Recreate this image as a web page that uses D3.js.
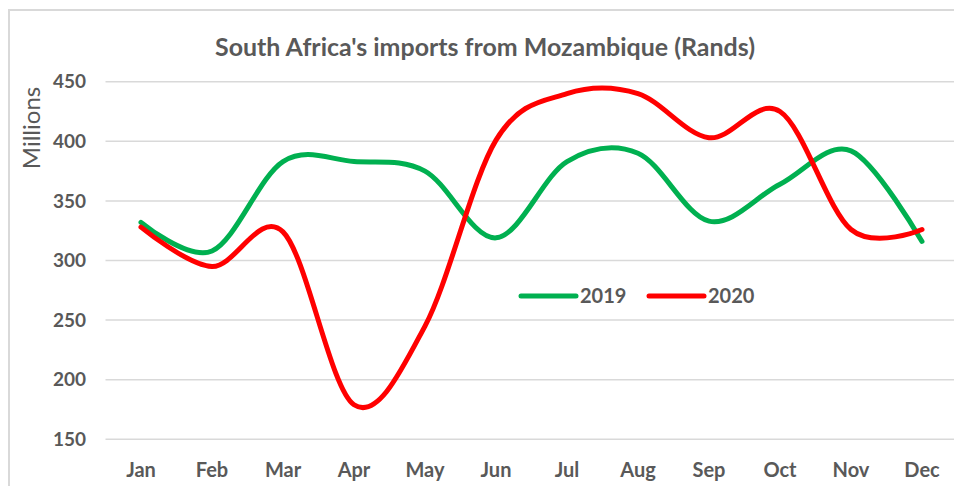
<!DOCTYPE html>
<html>
<head>
<meta charset="utf-8">
<script src="https://cdn.jsdelivr.net/npm/d3@7"></script>
<style>
  body { margin: 0; background: #fff; }
  svg { display: block; }
  text { font-family: Lato, "Noto Sans", sans-serif; fill: #595959; }
</style>
</head>
<body>
<svg id="chart"></svg>
<script>
var months = ['Jan', 'Feb', 'Mar', 'Apr', 'May', 'Jun', 'Jul', 'Aug', 'Sep', 'Oct', 'Nov', 'Dec'];
var imports2019 = [332, 308, 383, 383, 375, 319, 383, 390, 333, 364, 392, 316];
var imports2020 = [328, 295, 324, 179, 245, 401, 440, 440, 403, 425, 326, 326];
var yTicks = [150, 200, 250, 300, 350, 400, 450];
var seriesNames = ['2019', '2020'];
var seriesColors = ['#00B050', '#FF0000'];

var width = 954, height = 486;

var svg = d3.select('#chart')
    .attr('width', width)
    .attr('height', height);

// chart frame (cut off at right and bottom like the screenshot)
svg.append('rect')
    .attr('x', 9).attr('y', 10)
    .attr('width', 980).attr('height', 520)
    .attr('fill', 'none')
    .attr('stroke', '#D9D9D9')
    .attr('stroke-width', 2);

var x = d3.scalePoint()
    .domain(months)
    .range([105.5, 957.5])
    .padding(0.5);

var y = d3.scaleLinear()
    .domain([150, 450])
    .range([439.3, 81.7]);

// gridlines
svg.append('g')
    .selectAll('line')
    .data(yTicks)
    .join('line')
    .attr('x1', 105.5).attr('x2', width)
    .attr('y1', d => y(d)).attr('y2', d => y(d))
    .attr('stroke', '#D9D9D9')
    .attr('stroke-width', 1.5);

// y tick labels
svg.append('g')
    .selectAll('text')
    .data(yTicks)
    .join('text')
    .attr('x', 86)
    .attr('y', d => y(d))
    .attr('dy', '0.35em')
    .attr('text-anchor', 'end')
    .attr('font-size', 19)
    .attr('font-weight', 'bold')
    .text(d => d);

// x labels
svg.append('g')
    .selectAll('text')
    .data(months)
    .join('text')
    .attr('x', d => x(d))
    .attr('y', 477)
    .attr('text-anchor', 'middle')
    .attr('font-size', 20)
    .attr('font-weight', 'bold')
    .text(d => d);

// y axis title
svg.append('text')
    .attr('transform', 'translate(40,128) rotate(-90)')
    .attr('text-anchor', 'middle')
    .attr('font-size', 24)
    .text('Millions');

// chart title
svg.append('text')
    .attr('x', 485)
    .attr('y', 56)
    .attr('text-anchor', 'middle')
    .attr('font-size', 24)
    .attr('font-weight', 'bold')
    .attr('textLength', 540)
    .attr('lengthAdjust', 'spacingAndGlyphs')
    .text("South Africa's imports from Mozambique (Rands)");

var line = d3.line()
    .x((d, i) => x(months[i]))
    .y(d => y(d))
    .curve(d3.curveCardinal.tension(0));

[imports2019, imports2020].forEach(function (values, i) {
    svg.append('path')
        .datum(values)
        .attr('d', line)
        .attr('fill', 'none')
        .attr('stroke', seriesColors[i])
        .attr('stroke-width', 5)
        .attr('stroke-linecap', 'round')
        .attr('stroke-linejoin', 'round');
});

// legend
var legendX = [521, 649];
var legend = svg.append('g')
    .selectAll('g')
    .data(seriesNames)
    .join('g')
    .attr('transform', (d, i) => `translate(${legendX[i]}, 296)`);

legend.append('line')
    .attr('x1', 0).attr('x2', 55)
    .attr('y1', 0).attr('y2', 0)
    .attr('stroke', (d, i) => seriesColors[i])
    .attr('stroke-width', 5)
    .attr('stroke-linecap', 'round');

legend.append('text')
    .attr('x', 59)
    .attr('y', 7)
    .attr('font-size', 20)
    .attr('font-weight', 'bold')
    .text(d => d);
</script>
</body>
</html>
